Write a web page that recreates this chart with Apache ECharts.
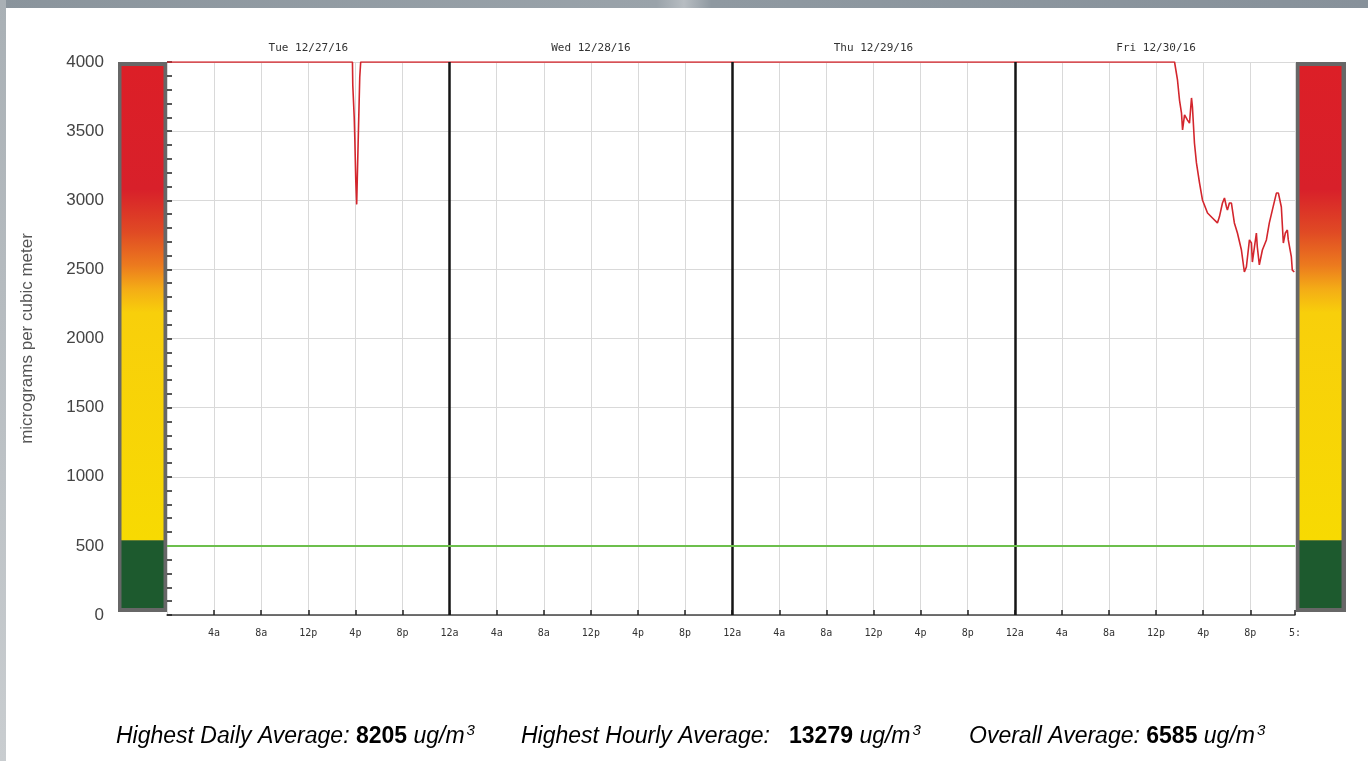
<!DOCTYPE html>
<html>
<head>
<meta charset="utf-8">
<script src="https://cdn.jsdelivr.net/npm/echarts@6/dist/echarts.min.js"></script>
<style>
  body { margin: 0; background: #fff; }
  #topband { position: absolute; left: 0; top: 0; width: 1368px; height: 8px;
    background: linear-gradient(to right, #8a949c, #9aa3aa 48%, #b7bdc2 50%, #8f99a1 52%, #87919a); }
  #leftband { position: absolute; left: 0; top: 0; width: 6px; height: 761px;
    background: linear-gradient(to bottom, #a9b0b5, #c9cdd0); }
  #divChart { position: absolute; left: 0; top: 0; width: 1368px; height: 761px; }
</style>
</head>
<body>
<div id="topband"></div>
<div id="leftband"></div>
<div id="divChart"></div>
<script>
// hours since Tue 12/27/16 00:00, readings in ug/m3 (clipped at 4000 on the chart)
var hours = [0, 15.75, 15.78, 15.9, 15.95, 16.03, 16.11, 16.19, 16.28, 16.37, 16.45,
  85.57, 85.82, 85.99, 86.16, 86.25, 86.42, 86.58, 86.67, 86.84, 87.01,
  87.09, 87.26, 87.43, 87.69, 87.94, 88.37, 88.79, 89.21, 89.38, 89.64,
  89.81, 89.98, 90.06, 90.23, 90.40, 90.65, 90.91, 91.25, 91.50, 91.67,
  91.93, 92.10, 92.18, 92.52, 92.60, 92.77, 93.03, 93.37, 93.62, 93.88,
  94.22, 94.39, 94.64, 94.81, 94.98, 95.15, 95.23, 95.49, 95.57, 95.74];
var pm = [4000, 4000, 3830, 3600, 3450, 3150, 2970, 3260, 3580, 3890, 4000,
  4000, 3870, 3725, 3630, 3508, 3617, 3617, 3580, 3558, 3740,
  3674, 3414, 3270, 3125, 3002, 2908, 2872, 2836, 2880, 2980,
  3016, 2951, 2930, 2980, 2980, 2836, 2763, 2640, 2481, 2517,
  2713, 2691, 2553, 2763, 2662, 2532, 2640, 2713, 2836, 2930,
  3052, 3052, 2951, 2691, 2763, 2785, 2713, 2590, 2495, 2481];
var dayLabels = ['Tue 12/27/16', 'Wed 12/28/16', 'Thu 12/29/16', 'Fri 12/30/16'];
var dayBreaks = [24, 48, 72];
var threshold = 500;
var bandLimits = [500, 4000];   // green band, then colour scale band
var xMax = 95.8;

function hourLabel(v) {
  if (v > 95) return '5:';
  var h = Math.round(v) % 24;
  if (h === 0) return '12a';
  if (h < 12) return h + 'a';
  if (h === 12) return '12p';
  return (h - 12) + 'p';
}

function bandSeries(xi, yi) {
  var grad = new echarts.graphic.LinearGradient(0, 0, 0, 1, [
    { offset: 0, color: '#dc1f27' },
    { offset: 0.26, color: '#d8202a' },
    { offset: 0.35, color: '#e04a24' },
    { offset: 0.42, color: '#ec7a1e' },
    { offset: 0.47, color: '#f4ac16' },
    { offset: 0.52, color: '#f8cf0b' },
    { offset: 1, color: '#f7da02' }
  ]);
  return [
    { type: 'bar', xAxisIndex: xi, yAxisIndex: yi, stack: 'b' + xi, barWidth: 42, silent: true,
      data: [bandLimits[0]], itemStyle: { color: '#1d5a2e' } },
    { type: 'bar', xAxisIndex: xi, yAxisIndex: yi, stack: 'b' + xi, barWidth: 42, silent: true,
      data: [bandLimits[1] - bandLimits[0]], itemStyle: { color: grad } }
  ];
}

var chart = echarts.init(document.getElementById('divChart'));
var lineData = hours.map(function (h, i) { return [h, pm[i]]; });

var markData = dayBreaks.map(function (d) {
  return { xAxis: d, lineStyle: { color: '#151515', width: 2.5, type: 'solid' } };
});
markData.push({ yAxis: threshold, lineStyle: { color: '#6cbf4c', width: 2, type: 'solid' } });

function statText(label, value) {
  return '{i|' + label + '}{b|' + value + '}{i| ug/m}{s|3}';
}
var rich = {
  i: { fontFamily: 'Liberation Sans', fontStyle: 'italic', fontSize: 23, color: '#222' },
  b: { fontFamily: 'Liberation Sans', fontWeight: 'bold', fontSize: 23, color: '#222' },
  s: { fontFamily: 'Liberation Sans', fontStyle: 'italic', fontSize: 15, color: '#222', padding: [0, 0, 12, 2] }
};

var option = {
  animation: false,
  backgroundColor: 'transparent',
  grid: [
    { left: 167, right: 73, top: 62, bottom: 146 },
    { left: 118, width: 49, top: 62, height: 550, show: true, backgroundColor: '#676767', borderWidth: 0 },
    { left: 1295, width: 51, top: 62, height: 550, show: true, backgroundColor: '#676767', borderWidth: 0 }
  ],
  xAxis: [
    { type: 'value', gridIndex: 0, min: 0, max: xMax, interval: 4,
      axisLine: { show: true, onZero: false, lineStyle: { color: '#444', width: 1.5 } },
      axisTick: { show: true, inside: true, length: 5, lineStyle: { color: '#222', width: 1.5 } },
      axisLabel: { showMinLabel: false, showMaxLabel: true, margin: 13, formatter: hourLabel,
        fontFamily: 'DejaVu Sans Mono', fontSize: 10, color: '#333' },
      splitLine: { show: true, lineStyle: { color: '#d9d9d9', width: 1 } } },
    { type: 'value', gridIndex: 0, position: 'top', min: 0, max: xMax, interval: 12,
      axisLine: { show: false }, axisTick: { show: false }, splitLine: { show: false },
      axisLabel: { margin: 8, fontFamily: 'DejaVu Sans Mono', fontSize: 11, color: '#333',
        formatter: function (v) { return v % 24 === 12 ? dayLabels[(v - 12) / 24] : ''; } } },
    { type: 'category', gridIndex: 1, data: [''], show: false },
    { type: 'category', gridIndex: 2, data: [''], show: false }
  ],
  yAxis: [
    { type: 'value', gridIndex: 0, min: 0, max: 4000, interval: 500,
      name: 'micrograms per cubic meter', nameLocation: 'middle', nameGap: 131,
      nameTextStyle: { fontFamily: 'Liberation Sans', fontSize: 17, color: '#555' },
      axisLine: { show: false },
      axisTick: { show: true, inside: true, length: 5, lineStyle: { color: '#222', width: 1.5 } },
      minorTick: { show: true, splitNumber: 5, length: 5, lineStyle: { color: '#222', width: 1.5 } },
      axisLabel: { margin: 63, fontFamily: 'Liberation Sans', fontSize: 17, color: '#444',
        formatter: function (v) { return String(v); } },
      splitLine: { show: true, lineStyle: { color: '#d9d9d9', width: 1 } } },
    { type: 'value', gridIndex: 1, min: -30, max: 4030, show: false, splitLine: { show: false } },
    { type: 'value', gridIndex: 2, min: -30, max: 4030, show: false, splitLine: { show: false } }
  ],
  series: [
    { type: 'line', xAxisIndex: 0, yAxisIndex: 0, data: lineData, symbol: 'none', clip: true,
      lineStyle: { color: '#d3262d', width: 1.6 }, z: 3,
      markLine: { silent: true, symbol: ['none', 'none'], label: { show: false }, data: markData } }
  ].concat(bandSeries(2, 1), bandSeries(3, 2)),
  graphic: [
    { type: 'text', left: 116, top: 723, style: { text: statText('Highest Daily Average: ', '8205'), rich: rich } },
    { type: 'text', left: 521, top: 723, style: { text: statText('Highest Hourly Average:   ', '13279'), rich: rich } },
    { type: 'text', left: 969, top: 723, style: { text: statText('Overall Average: ', '6585'), rich: rich } }
  ]
};
chart.setOption(option);
</script>
</body>
</html>
